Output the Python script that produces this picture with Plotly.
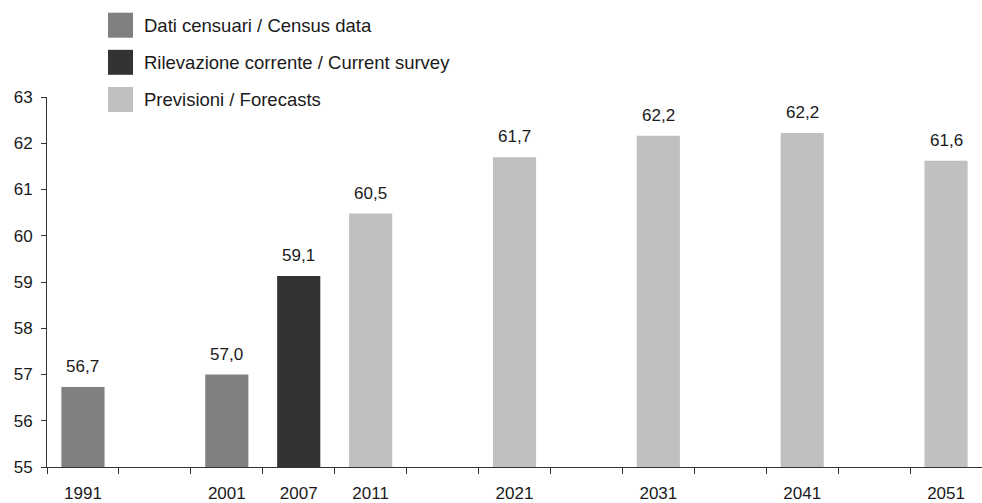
import plotly.graph_objects as go

# ---- data ----
categories = ["1991", " ", "2001", "2007", "2011", "  ", "2021", "   ",
              "2031", "    ", "2041", "     ", "2051"]
series_names = ["Dati censuari / Census data",
                "Rilevazione corrente / Current survey",
                "Previsioni / Forecasts"]
series_colors = ["#808080", "#333333", "#c0c0c0"]
census_years = ["1991", "2001"]
census_values = [56.73, 57.0]
survey_years = ["2007"]
survey_values = [59.13]
forecast_years = ["2011", "2021", "2031", "2041", "2051"]
forecast_values = [60.48, 61.70, 62.16, 62.22, 61.62]
y_ticks = [55, 56, 57, 58, 59, 60, 61, 62, 63]

W, H = 982, 503
L, R, T, B = 47, 0, 97, 36
PW, PH = W - L - R, H - T - B
FONT = "Liberation Sans, Arial, sans-serif"
TXT = "#1a1a1a"


def px_x(p):
    return (p - L) / PW


def px_y(p):
    return (H - B - p) / PH


groups = [(census_years, census_values), (survey_years, survey_values),
          (forecast_years, forecast_values)]

fig = go.Figure()
for (xs, ys), name, col in zip(groups, series_names, series_colors):
    fig.add_trace(go.Bar(x=xs, y=ys, name=name, marker_color=col,
                         marker_line_width=0, width=0.6, showlegend=False))

annotations = []
for xs, ys in groups:
    for x, v in zip(xs, ys):
        annotations.append(dict(x=categories.index(x), y=v, xref="x", yref="y",
                                text=f"{v:.1f}".replace(".", ","),
                                showarrow=False, yanchor="bottom", yshift=9,
                                font=dict(family=FONT, size=17, color=TXT)))

shapes = []
legend_centers = [25.2, 62.3, 99.5]
for name, col, cy in zip(series_names, series_colors, legend_centers):
    shapes.append(dict(type="rect", xref="paper", yref="paper",
                       x0=px_x(108), x1=px_x(133),
                       y0=px_y(cy + 12.5), y1=px_y(cy - 12.5),
                       fillcolor=col, line_width=0))
    annotations.append(dict(x=px_x(142), y=px_y(cy), xref="paper", yref="paper",
                            text=name, showarrow=False, xanchor="left",
                            yanchor="middle",
                            font=dict(family=FONT, size=18.5, color=TXT)))

fig.update_layout(
    width=W, height=H,
    margin=dict(l=L, r=R, t=T, b=B),
    paper_bgcolor="white", plot_bgcolor="white",
    barmode="overlay",
    separators=",.",
    font=dict(family=FONT, size=17, color=TXT),
    annotations=annotations, shapes=shapes,
    showlegend=False,
)
fig.update_xaxes(type="category", categoryorder="array", categoryarray=categories,
                 tickmode="array", tickvals=categories, ticktext=categories,
                 range=[-0.5, len(categories) - 0.5],
                 tickson="boundaries", ticks="outside", ticklen=6,
                 tickcolor="#333", showline=True, linecolor="#333", linewidth=1,
                 showgrid=False, ticklabelstandoff=11,
                 tickfont=dict(family=FONT, size=17, color=TXT))
fig.update_yaxes(range=[55, 63], tickvals=y_ticks, ticks="outside", ticklen=5,
                 tickcolor="#333", showline=True, linecolor="#333", linewidth=1,
                 showgrid=False, zeroline=False, ticklabelstandoff=5,
                 tickfont=dict(family=FONT, size=17, color=TXT))

fig.write_html("out.html",
               config={"displayModeBar": False},
               post_script="document.body.style.margin='0';"
                           "document.body.style.overflow='hidden';")
